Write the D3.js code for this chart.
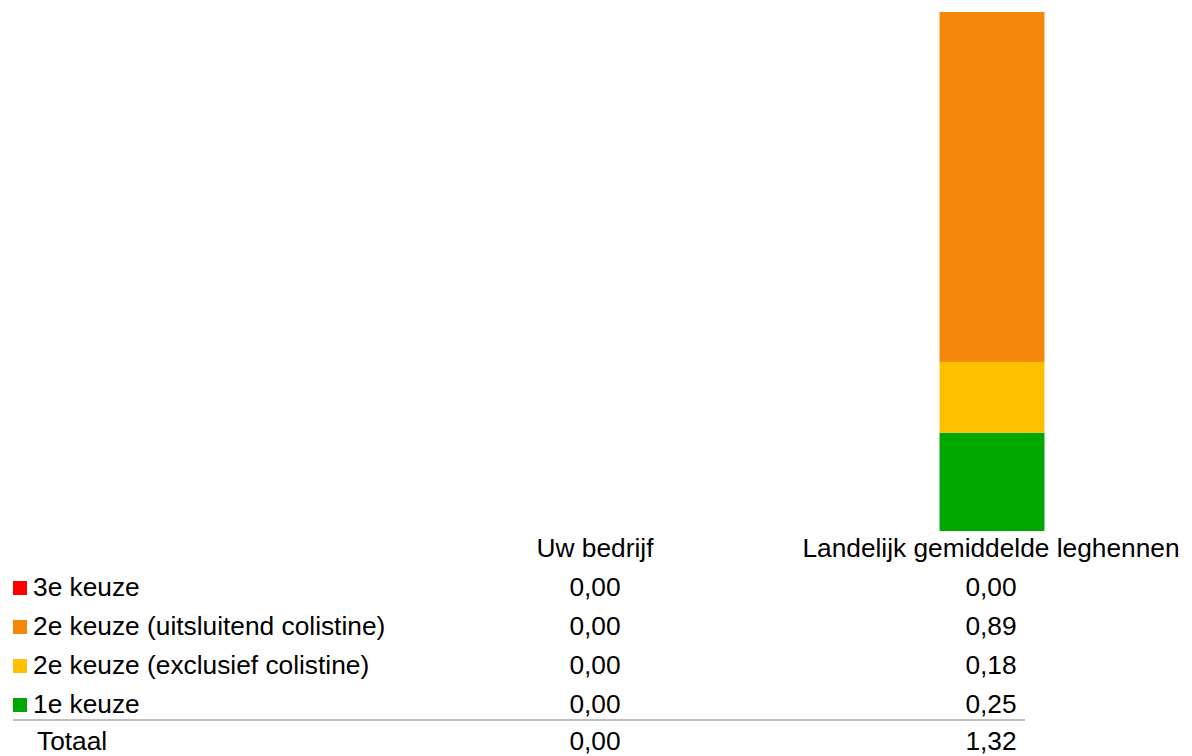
<!DOCTYPE html>
<html>
<head>
<meta charset="utf-8">
<script src="https://cdn.jsdelivr.net/npm/d3@7"></script>
<style>
  html, body { margin: 0; padding: 0; background: #fff; }
  svg { display: block; font-family: "Liberation Sans", Arial, sans-serif; }
</style>
</head>
<body>
<svg id="chart" width="1192" height="756"></svg>
<script>
// Columns of the chart / data table
const categories = ["Uw bedrijf", "Landelijk gemiddelde leghennen"];

// Series in stacking order (bottom to top)
const seriesNames = ["1e keuze", "2e keuze (exclusief colistine)", "2e keuze (uitsluitend colistine)", "3e keuze"];
const seriesColors = ["#00a800", "#ffc000", "#f5870b", "#ff0000"];

// Values per column, in the same order as seriesNames
const uwBedrijfValues = [0.00, 0.00, 0.00, 0.00];
const landelijkValues = [0.25, 0.18, 0.89, 0.00];

const totalLabel = "Totaal";

const svg = d3.select("#chart");
const fmt = v => d3.format(".2f")(v).replace(".", ",");

// Row objects for d3.stack
const rows = categories.map((c, i) => {
  const vals = i === 0 ? uwBedrijfValues : landelijkValues;
  const r = { category: c };
  seriesNames.forEach((s, j) => { r[s] = vals[j]; });
  r.total = d3.sum(vals);
  return r;
});

const stacked = d3.stack().keys(seriesNames)(rows);
const maxTotal = d3.max(rows, r => r.total);

const x = d3.scaleBand().domain(categories).range([398, 1190]).padding(0);
const y = d3.scaleLinear().domain([0, maxTotal]).range([531, 12]);
const color = d3.scaleOrdinal().domain(seriesNames).range(seriesColors);
const barWidth = x.bandwidth() * 0.265;

// Stacked bars
svg.append("g")
  .selectAll("g")
  .data(stacked)
  .join("g")
  .attr("fill", d => color(d.key))
  .selectAll("rect")
  .data(d => d)
  .join("rect")
  .attr("x", d => x(d.data.category) + (x.bandwidth() - barWidth) / 2)
  .attr("width", barWidth)
  .attr("y", d => y(d[1]))
  .attr("height", d => y(d[0]) - y(d[1]));

// Data table below the bars
const fontSize = 26.3;
const table = svg.append("g").attr("font-size", fontSize).attr("fill", "#000");
const headerY = 557;
const rowStart = 596;
const rowStep = 39;

// Column headers
table.selectAll("text.header")
  .data(categories)
  .join("text")
  .attr("class", "header")
  .attr("x", d => x(d) + x.bandwidth() / 2 - 1)
  .attr("y", headerY)
  .attr("text-anchor", "middle")
  .text(d => d);

// Legend rows, top to bottom
const legendOrder = seriesNames.slice().reverse();

const rowG = table.selectAll("g.row")
  .data(legendOrder)
  .join("g")
  .attr("class", "row")
  .attr("transform", (d, i) => `translate(0,${rowStart + i * rowStep})`);

rowG.append("rect")
  .attr("x", 13)
  .attr("y", -15)
  .attr("width", 14)
  .attr("height", 14)
  .attr("fill", d => color(d));

rowG.append("text")
  .attr("x", 33)
  .attr("y", 0)
  .text(d => d);

rowG.selectAll("text.val")
  .data(s => rows.map(r => ({ category: r.category, value: r[s] })))
  .join("text")
  .attr("class", "val")
  .attr("x", d => x(d.category) + x.bandwidth() / 2 - 1)
  .attr("y", 0)
  .attr("text-anchor", "middle")
  .text(d => fmt(d.value));

// Separator above the totals
const lastRowY = rowStart + (legendOrder.length - 1) * rowStep;
const lineY = lastRowY + 7;
const totalY = lastRowY + 37;
table.append("line")
  .attr("x1", 13)
  .attr("x2", 1025)
  .attr("y1", lineY)
  .attr("y2", lineY)
  .attr("stroke", "#bfbfbf")
  .attr("stroke-width", 2);

table.append("text")
  .attr("x", 37)
  .attr("y", totalY)
  .text(totalLabel);

table.selectAll("text.total")
  .data(rows)
  .join("text")
  .attr("class", "total")
  .attr("x", d => x(d.category) + x.bandwidth() / 2 - 1)
  .attr("y", totalY)
  .attr("text-anchor", "middle")
  .text(d => fmt(d.total));
</script>
</body>
</html>
